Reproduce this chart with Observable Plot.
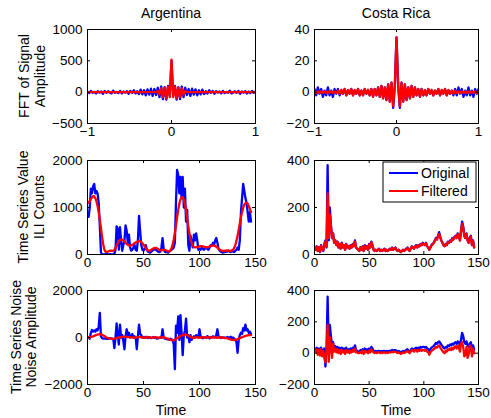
<!DOCTYPE html>
<html><head><meta charset="utf-8">
<script src="https://cdn.jsdelivr.net/npm/d3@7"></script>
<script src="https://cdn.jsdelivr.net/npm/@observablehq/plot@0.6"></script>
<style>
body{margin:0;background:#fff;}
#chart{position:relative;width:491px;height:418px;background:#fff;overflow:hidden;}
#chart svg{position:absolute;}
</style></head><body><div id="chart"></div>
<script>
// ---------- data ----------
const countries = ["Argentina", "Costa Rica"];
const rowLabels = [["FFT of Signal", "Amplitude"], ["Time Series Value", "ILI Counts"], ["Time Series Noise", "Noise Amplitude"]];
const seriesNames = ["Original", "Filtered"];
const weeks = d3.range(1, 147);
const freq = d3.range(99).map(i => -1 + i * 2 / 98);

const fftArgOriginal = [10,-15,20,-10,5,-20,15,-5,10,-25,20,-10,15,-5,-20,25,-10,5,-15,20,-20,10,-5,15,-25,20,-10,30,-20,15,-30,
  40,-35,30,-50,45,-40,55,-60,50,-45,70,
  -80,90,-110,80,-120,100,-60,
  500,
  -60,100,-120,80,-110,90,-80,
  70,-45,50,-60,55,-40,45,-50,30,-35,40,
  -30,15,-20,30,-10,20,-25,15,-5,10,-20,20,-15,5,-10,25,-20,-5,15,-10,20,-25,10,-5,15,-20,10,-15,20,-10,10];
const fftArgFiltered = [0,0,0,0,0,0,0,0,0,0,0,0,0,0,0,0,0,0,0,0,0,0,0,0,0,0,0,0,0,0,0,0,0,0,0,0,0,0,0,0,
  0,20,-40,60,-80,70,-100,90,-80,520,-80,90,-100,70,-80,60,-40,20,0,
  0,0,0,0,0,0,0,0,0,0,0,0,0,0,0,0,0,0,0,0,0,0,0,0,0,0,0,0,0,0,0,0,0,0,0,0,0,0,0,0];
const fftCrOriginal = [2,-2,3,-1,2,-3,1,-2,3,-2,1,-3,2,-1,2,-2,
  1,-1,2,-2,1,-1,2,-2,1,-1,2,-2,1,-2,2,-1,1,-2,2,-3,2,-2,3,
  -3,4,-4,3,-5,5,-6,6,-10,4,
  35,
  4,-10,6,-6,5,-5,3,-4,4,-3,
  3,-2,2,-3,2,-2,1,-2,2,-1,1,-2,1,-1,2,-2,1,-1,2,-2,1,-1,1,
  -2,2,-2,3,-1,2,-3,1,-2,3,-2,1,-3,2,-1,2];
const fftCrFiltered = [0.5,-0.5,0.5,-0.5,0.5,-0.5,0.5,-0.5,0.5,-0.5,0.5,-0.5,0.5,-0.5,1,-1,
  1.5,-1,2,-2,1.5,-1,2,-2,1.5,-1,2,-2,1,-2,2,-1,1.5,-2,2,-3,2,-2,3,
  -3,4,-4,3,-5,5,-6,6,-9,4,
  35,
  4,-9,6,-6,5,-5,3,-4,4,-3,
  3,-2,2,-3,2,-2,1.5,-2,2,-1,1.5,-2,1,-1,2,-2,1.5,-1,2,-2,1.5,-1,1,
  -1,1,-0.5,0.5,-0.5,0.5,-0.5,0.5,-0.5,0.5,-0.5,0.5,-0.5,0.5,-0.5,0.5];

const argOriginal = [800,1000,1400,1300,1450,1500,1300,1350,1300,1100,
  600,50,0,0,0,0,20,0,0,10,
  0,0,0,20,100,600,550,100,580,300,
  80,200,300,620,500,250,420,150,80,100,
  150,200,100,80,300,820,500,200,100,80,
  120,200,100,60,50,40,60,80,100,120,
  100,80,60,50,60,150,350,120,60,50,
  50,40,60,80,100,120,150,250,1100,1800,
  1700,1300,1650,1200,1650,1000,1400,700,950,200,
  80,400,250,150,420,300,450,300,100,120,
  100,150,120,100,130,150,120,100,150,200,
  180,250,200,300,350,250,120,80,60,50,
  40,60,50,70,60,80,60,50,80,60,
  50,80,100,150,100,300,900,1200,1500,1350,
  1200,1100,900,700,900,700];
const argFiltered = [1100,1140,1180,1210,1240,1240,1200,1130,1030,900,
  740,560,380,220,110,60,50,60,70,80,
  80,75,80,100,140,190,240,280,310,320,
  315,300,280,250,225,205,195,190,195,205,
  220,240,255,270,280,285,280,265,240,210,
  170,135,105,85,80,85,100,115,130,140,
  140,130,115,100,90,90,95,100,100,90,
  75,65,65,85,130,210,320,460,620,790,
  950,1080,1170,1220,1220,1170,1070,930,770,600,
  450,330,240,185,160,150,150,155,165,175,
  180,180,175,165,155,150,150,160,170,180,
  190,195,190,180,165,145,125,105,90,80,
  75,75,80,85,85,80,75,75,90,100,
  140,200,290,400,530,660,790,900,990,1060,
  1090,1100,1080,1030,970,900];
const argNoiseOriginal = [0,-50,200,320,250,300,250,350,300,450,
  1050,50,-30,-50,-40,-50,-60,-60,-50,-40,
  -40,-50,-60,-450,0,600,100,-300,550,0,
  100,-150,-500,50,350,100,200,0,50,150,
  0,50,0,-500,50,550,150,100,0,0,
  20,-10,30,-20,10,0,-30,-10,20,-20,
  0,-50,-40,-20,0,-10,350,0,-50,-50,
  -80,-60,-100,-50,-80,-100,-300,-1350,500,200,
  900,-100,950,200,-750,100,300,800,0,100,
  -200,100,-100,0,50,0,100,50,0,350,
  50,0,-30,20,0,-20,60,0,-40,20,
  0,50,0,20,100,350,50,0,-20,10,
  -10,0,-30,0,20,-10,0,30,-20,0,
  -50,-100,-200,-650,-100,100,200,150,400,300,
  550,300,350,200,250,150];
const argNoiseFiltered = [0,10,20,35,50,70,90,110,125,135,
  140,135,120,90,60,30,0,-20,-35,-45,
  -50,-55,-55,-50,-40,-25,-10,0,10,20,
  30,35,35,30,25,20,15,10,5,0,
  -10,-10,0,10,20,20,20,10,0,-10,
  -10,0,10,10,10,0,-10,-10,0,10,
  10,0,-10,-10,0,10,10,0,-10,-20,
  -40,-60,-80,-100,-115,-120,-110,-90,-60,-30,
  0,30,60,85,105,120,125,120,105,80,
  50,20,0,-10,-10,0,10,10,0,-10,
  0,10,10,0,-10,0,10,10,0,-10,
  0,10,10,0,-10,-10,0,10,10,0,
  -10,-15,-20,-20,-40,-60,-75,-90,-100,-105,
  -105,-100,-90,-70,-50,-30,-10,10,30,50,
  65,80,90,100,100,100];

const crOriginal = [20,35,15,30,10,40,20,15,45,60,
  30,380,60,200,130,70,90,50,60,40,
  55,30,45,25,50,30,40,20,45,30,
  35,25,40,30,45,35,60,30,25,20,
  15,30,20,35,15,40,25,35,20,45,
  30,55,40,20,15,20,15,20,25,15,
  20,15,20,25,15,20,15,20,25,20,
  30,20,25,30,20,15,20,15,10,15,
  20,15,20,25,30,20,15,25,35,30,
  25,35,40,30,40,35,45,40,50,45,
  40,50,35,30,20,30,40,45,50,60,
  70,65,80,95,75,60,50,40,35,45,
  40,55,50,60,55,70,65,75,80,70,
  90,80,60,100,140,120,80,70,90,60,
  50,70,80,40,60,30];
const crFiltered = [20,33,15,30,12,38,20,18,42,55,
  35,260,70,170,125,70,88,50,60,40,
  53,30,45,25,48,30,40,20,43,30,
  35,25,38,30,43,35,55,30,25,20,
  15,30,20,33,15,38,25,33,20,42,
  30,52,40,20,15,20,15,20,23,15,
  20,15,20,23,15,20,15,20,23,20,
  28,20,25,28,20,15,20,15,10,15,
  20,15,20,23,28,20,15,25,33,30,
  25,33,38,30,38,35,43,40,47,45,
  40,48,35,30,20,30,38,43,48,57,
  67,63,77,88,72,60,50,40,35,43,
  40,52,50,57,55,67,63,72,77,70,
  87,78,60,97,130,115,78,70,87,60,
  50,67,77,40,58,30];
const crNoiseOriginal = [25,35,15,30,10,35,15,10,30,-85,
  30,360,40,180,110,50,70,30,45,25,
  40,20,35,15,35,20,30,10,35,20,
  25,15,30,20,35,25,50,20,15,10,
  10,20,10,25,10,30,15,25,10,30,
  20,40,30,15,10,15,10,15,15,10,
  15,10,15,15,10,15,10,15,15,15,
  20,15,20,20,15,10,15,10,5,10,
  15,10,15,20,25,15,10,20,30,25,
  20,30,35,25,35,30,40,35,40,40,
  35,40,30,25,15,25,35,40,45,55,
  65,60,70,75,65,55,45,35,30,40,
  35,50,45,55,50,60,55,65,70,60,
  75,70,50,85,130,110,70,60,75,50,
  40,60,70,30,50,25];
const crNoiseFiltered = [10,25,-10,20,-15,25,-20,15,-30,-60,
  20,180,-55,100,40,-30,60,10,30,5,
  25,0,20,-5,20,5,15,-5,20,5,
  15,0,15,5,20,10,30,5,5,0,
  0,10,0,15,-5,15,5,10,0,15,
  5,25,15,5,0,5,0,5,5,0,
  5,0,5,5,0,5,0,5,5,5,
  10,5,10,10,5,0,5,0,-5,0,
  5,0,5,10,15,5,0,10,20,15,
  10,20,20,10,20,15,20,15,20,20,
  15,20,10,5,-10,5,15,20,25,30,
  40,35,45,50,35,25,15,5,0,15,
  10,25,20,30,20,35,25,40,45,30,
  50,40,10,60,70,40,-20,-10,40,-30,
  -10,50,40,-20,30,0];

const freqTicks = [-1, 0, 1];
const weekTicks = [0, 50, 100, 150];
const yTicksArgFft = [-500, 0, 500, 1000];
const yTicksCrFft = [-20, 0, 20, 40];
const yTicksArgSeries = [0, 1000, 2000];
const yTicksCrSeries = [0, 200, 400];
const yTicksArgNoise = [-2000, 0, 2000];
const yTicksCrNoise = [-200, 0, 200, 400];

// ---------- layout ----------
const FONT = "'Liberation Sans', Arial, Helvetica, sans-serif";
const BLUE = "#0000ff", RED = "#ff0000";
const colLeft = [87, 314], colW = [168, 164];
const rowTop = [29, 160, 290], rowH = 94;
const fmt = d => d < 0 ? "\u2212" + Math.abs(d) : String(d);
const chart = document.getElementById("chart");

function panel(r, c, xs, blue, red, xDomain, xTicks, yDomain, yTicks) {
  const ml = 52, mr = 6, mt = 8, mb = 24, w = colW[c], h = rowH, tk = 3;
  const svg = Plot.plot({
    width: w + ml + mr, height: h + mt + mb,
    marginLeft: ml, marginRight: mr, marginTop: mt, marginBottom: mb,
    style: {fontFamily: FONT, fontSize: "13.5px", color: "black", background: "transparent", overflow: "visible"},
    x: {domain: xDomain, ticks: xTicks, tickFormat: fmt, tickSize: 0, tickPadding: 3, label: null},
    y: {domain: yDomain, ticks: yTicks, tickFormat: fmt, tickSize: 0, tickPadding: 5, label: null},
    marks: [
      Plot.line(blue, {x: xs, y: blue, stroke: BLUE, strokeWidth: 2.3, strokeLinejoin: "round", clip: true}),
      Plot.line(red, {x: xs, y: red, stroke: RED, strokeWidth: 2.3, strokeLinejoin: "round", clip: true}),
      Plot.tickX(xTicks, {x: d => d, insetTop: h - tk, stroke: "black"}),
      Plot.tickX(xTicks, {x: d => d, insetBottom: h - tk, stroke: "black"}),
      Plot.tickY(yTicks, {y: d => d, insetRight: w - tk, stroke: "black"}),
      Plot.tickY(yTicks, {y: d => d, insetLeft: w - tk, stroke: "black"}),
      Plot.frame({stroke: "black", strokeWidth: 1})
    ]
  });
  svg.style.left = (colLeft[c] - ml) + "px";
  svg.style.top = (rowTop[r] - mt) + "px";
  chart.appendChild(svg);
}

panel(0, 0, freq, fftArgOriginal, fftArgFiltered, [-1, 1], freqTicks, [-500, 1000], yTicksArgFft);
panel(0, 1, freq, fftCrOriginal, fftCrFiltered, [-1, 1], freqTicks, [-20, 40], yTicksCrFft);
panel(1, 0, weeks, argOriginal, argFiltered, [0, 150], weekTicks, [0, 2000], yTicksArgSeries);
panel(1, 1, weeks, crOriginal, crFiltered, [0, 150], weekTicks, [0, 400], yTicksCrSeries);
panel(2, 0, weeks, argNoiseOriginal, argNoiseFiltered, [0, 150], weekTicks, [-2000, 2000], yTicksArgNoise);
panel(2, 1, weeks, crNoiseOriginal, crNoiseFiltered, [0, 150], weekTicks, [-200, 400], yTicksCrNoise);

// ---------- overlay: titles, labels, legend ----------
const ov = d3.select(chart).append("svg").attr("width", 491).attr("height", 418)
  .style("left", "0px").style("top", "0px").style("pointer-events", "none")
  .style("font-family", FONT).style("font-size", "14px");

countries.forEach((name, c) => {
  const cx = colLeft[c] + colW[c] / 2;
  ov.append("text").attr("x", cx).attr("y", 18).attr("text-anchor", "middle").text(name);
  ov.append("text").attr("x", cx).attr("y", 415).attr("text-anchor", "middle").text("Time");
});
const labelX = [[24, 40], [23, 39], [16, 31]];
rowLabels.forEach((lines, r) => {
  const cy = rowTop[r] + rowH / 2;
  lines.forEach((t, i) => {
    ov.append("text").attr("transform", `translate(${labelX[r][i]},${cy}) rotate(-90)`)
      .attr("text-anchor", "middle").attr("dominant-baseline", "central").text(t);
  });
});
// legend in Costa Rica time-series panel
const lg = ov.append("g");
lg.append("rect").attr("x", 383).attr("y", 162).attr("width", 93).attr("height", 40)
  .attr("fill", "white").attr("stroke", "black").attr("stroke-width", 1);
[BLUE, RED].forEach((col, i) => {
  const yy = 173 + i * 18;
  lg.append("line").attr("x1", 389).attr("x2", 418).attr("y1", yy).attr("y2", yy)
    .attr("stroke", col).attr("stroke-width", 2);
  lg.append("text").attr("x", 421).attr("y", yy).attr("dominant-baseline", "central").text(seriesNames[i]);
});
</script></body></html>
